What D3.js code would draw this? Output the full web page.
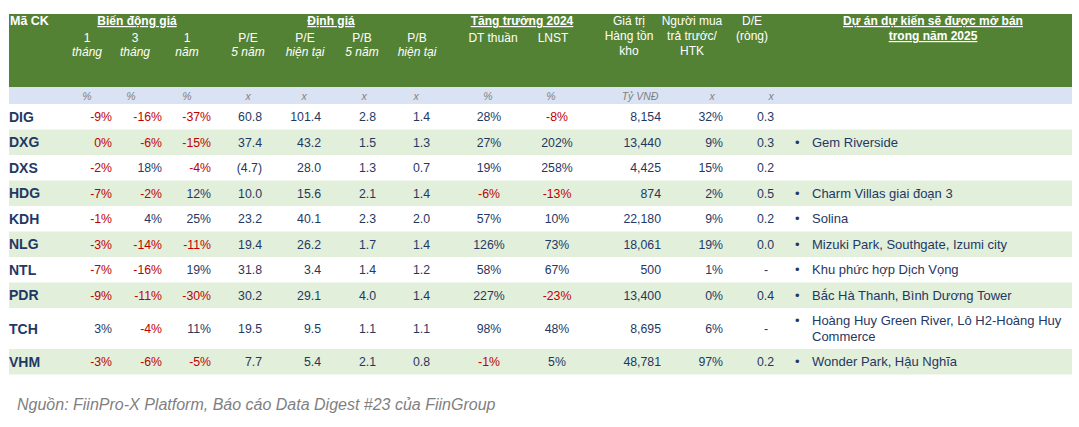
<!DOCTYPE html>
<html>
<head>
<meta charset="utf-8">
<script src="https://cdn.jsdelivr.net/npm/d3@7"></script>
<style>
  html, body { margin: 0; padding: 0; background: #ffffff; }
  svg { display: block; font-family: Arial, "Liberation Sans", sans-serif; }
</style>
</head>
<body>
<svg id="chart" width="1079" height="427"></svg>
<script>
// ---------------- DATA ----------------
const tickers   = ["DIG","DXG","DXS","HDG","KDH","NLG","NTL","PDR","TCH","VHM"];
const chg1m     = [-9, 0, -2, -7, -1, -3, -7, -9, 3, -3];
const chg3m     = [-16, -6, 18, -2, 4, -14, -16, -11, -4, -6];
const chg1y     = [-37, -15, -4, 12, 25, -11, 19, -30, 11, -5];
const pe5y      = [60.8, 37.4, -4.7, 10.0, 23.2, 19.4, 31.8, 30.2, 19.5, 7.7];
const peNow     = [101.4, 43.2, 28.0, 15.6, 40.1, 26.2, 3.4, 29.1, 9.5, 5.4];
const pb5y      = [2.8, 1.5, 1.3, 2.1, 2.3, 1.7, 1.4, 4.0, 1.1, 2.1];
const pbNow     = [1.4, 1.3, 0.7, 1.4, 2.0, 1.4, 1.2, 1.4, 1.1, 0.8];
const revGrowth = [28, 27, 19, -6, 57, 126, 58, 227, 98, -1];
const npatGrowth= [-8, 202, 258, -13, 10, 73, 67, -23, 48, 5];
const inventory = [8154, 13440, 4425, 874, 22180, 18061, 500, 13400, 8695, 48781];
const prepaid   = [32, 9, 15, 2, 9, 19, 1, 0, 6, 97];
const netDE     = [0.3, 0.3, 0.2, 0.5, 0.2, 0.0, null, 0.4, null, 0.2];
const projects  = [
  [],
  ["Gem Riverside"],
  [],
  ["Charm Villas giai đoạn 3"],
  ["Solina"],
  ["Mizuki Park, Southgate, Izumi city"],
  ["Khu phức hợp Dịch Vọng"],
  ["Bắc Hà Thanh, Bình Dương Tower"],
  ["Hoàng Huy Green River, Lô H2-Hoàng Huy", "Commerce"],
  ["Wonder Park, Hậu Nghĩa"]
];
const groupTitles = ["Biến động giá", "Định giá", "Tăng trưởng 2024"];
const colHeads = [["1","tháng"],["3","tháng"],["1","năm"],["P/E","5 năm"],["P/E","hiện tại"],
                  ["P/B","5 năm"],["P/B","hiện tại"],["DT thuần"],["LNST"],
                  ["Giá trị","Hàng tồn","kho"],["Người mua","trả trước/","HTK"],["D/E","(ròng)"]];
const units = ["%","%","%","x","x","x","x","%","%","Tỷ VNĐ","x","x"];
const projectTitle = ["Dự án dự kiến sẽ được mở bán", "trong năm 2025"];
const tickerTitle = "Mã CK";
const sourceNote = "Nguồn: FiinPro-X Platform, Báo cáo Data Digest #23 của FiinGroup";

// ---------------- STYLE / LAYOUT ----------------
const GREEN = "#548235", STRIPE = "#e2efda", UNITROW = "#dae3f3";
const NAVY = "#1f3864", RED = "#c00000", GREY = "#7f7f7f";
const left = 9, right = 1072;
const headTop = 14, headBottom = 87, unitBottom = 104;

const pct = d => d + "%";
const dec = d => d < 0 ? "(" + Math.abs(d).toFixed(1) + ")" : d.toFixed(1);
const thou = d3.format(",");
const deFmt = d => d == null ? "-" : d.toFixed(1);

const columns = [
  {vals: chg1m,      fmt: pct,  x: 112, anchor: "end",    hx: 87,  ux: 87,  red: true,  italic2: true},
  {vals: chg3m,      fmt: pct,  x: 162, anchor: "end",    hx: 135, ux: 131, red: true,  italic2: true},
  {vals: chg1y,      fmt: pct,  x: 211, anchor: "end",    hx: 187, ux: 187, red: true,  italic2: true},
  {vals: pe5y,       fmt: dec,  x: 262, anchor: "end",    hx: 248, ux: 248, red: false, italic2: true},
  {vals: peNow,      fmt: dec,  x: 321, anchor: "end",    hx: 305, ux: 304, red: false, italic2: true},
  {vals: pb5y,       fmt: dec,  x: 376, anchor: "end",    hx: 362, ux: 364, red: false, italic2: true},
  {vals: pbNow,      fmt: dec,  x: 430, anchor: "end",    hx: 417, ux: 416, red: false, italic2: true},
  {vals: revGrowth,  fmt: pct,  x: 489, anchor: "middle", hx: 493, ux: 488, red: true,  italic2: false},
  {vals: npatGrowth, fmt: pct,  x: 557, anchor: "middle", hx: 553, ux: 551, red: true,  italic2: false},
  {vals: inventory,  fmt: thou, x: 661, anchor: "end",    hx: 629, ux: 640, red: false, italic2: false, stack: true},
  {vals: prepaid,    fmt: pct,  x: 723, anchor: "end",    hx: 692, ux: 712, red: false, italic2: false, stack: true},
  {vals: netDE,      fmt: deFmt,x: 774, anchor: "end",    hx: 752, ux: 771, red: false, italic2: false, stack: true}
];
const groupCenters = [137, 331, 522];

// row geometry
const rowHeights = tickers.map(t => t === "TCH" ? 41 : 25.5);
const rowTops = [];
rowHeights.reduce((acc, h) => { rowTops.push(acc); return acc + h; }, unitBottom);
const yTop = d3.scaleOrdinal(tickers, rowTops);
const yH = d3.scaleOrdinal(tickers, rowHeights);
const yMid = t => yTop(t) + yH(t) / 2;

const svg = d3.select("#chart");

// ---------------- HEADER ----------------
svg.append("rect").attr("x", left).attr("y", headTop).attr("width", right - left)
   .attr("height", headBottom - headTop).attr("fill", GREEN);
svg.append("rect").attr("x", left).attr("y", headBottom).attr("width", right - left)
   .attr("height", unitBottom - headBottom).attr("fill", UNITROW);

const hdr = svg.append("g").attr("fill", "#ffffff").attr("font-size", 12);
hdr.append("text").attr("x", 10).attr("y", 25).attr("font-weight", "bold")
   .attr("font-size", 12.5).text(tickerTitle);
hdr.selectAll("text.grp").data(groupTitles).join("text").attr("class", "grp")
   .attr("x", (d, i) => groupCenters[i]).attr("y", 25).attr("text-anchor", "middle")
   .attr("font-weight", "bold").attr("text-decoration", "underline").text(d => d);
hdr.selectAll("text.proj").data(projectTitle).join("text").attr("class", "proj")
   .attr("x", 933).attr("y", (d, i) => 25 + i * 15).attr("text-anchor", "middle")
   .attr("font-weight", "bold").attr("text-decoration", "underline").text(d => d);

columns.forEach((c, ci) => {
  const lines = colHeads[ci];
  lines.forEach((ln, li) => {
    const y = c.stack ? 25 + li * 15 : 42 + li * 14;
    hdr.append("text").attr("x", c.hx).attr("y", y).attr("text-anchor", "middle")
       .attr("font-style", (li === 1 && c.italic2) ? "italic" : "normal").text(ln);
  });
});

// units row
svg.append("g").selectAll("text").data(units).join("text")
   .attr("x", (d, i) => columns[i].ux).attr("y", 99.5).attr("text-anchor", "middle")
   .attr("font-size", 10.5).attr("font-style", "italic").attr("fill", GREY).text(d => d);

// ---------------- BODY ----------------
const body = svg.append("g");
body.selectAll("rect.stripe").data(tickers.filter((t, i) => i % 2 === 1)).join("rect")
   .attr("class", "stripe").attr("x", left).attr("y", d => yTop(d))
   .attr("width", right - left).attr("height", d => yH(d)).attr("fill", STRIPE);

body.selectAll("text.tk").data(tickers).join("text").attr("class", "tk")
   .attr("x", 9).attr("y", d => yMid(d) + 5).attr("font-size", 14)
   .attr("font-weight", "bold").attr("fill", NAVY).text(d => d);

columns.forEach(c => {
  body.append("g").selectAll("text").data(tickers).join("text")
    .attr("x", (d, i) => (c.vals[i] == null ? c.x - 6 : c.x))
    .attr("y", d => yMid(d) + 4.4)
    .attr("text-anchor", c.anchor).attr("font-size", 12.3)
    .attr("fill", (d, i) => c.red && c.vals[i] <= 0 ? RED : NAVY)
    .text((d, i) => c.fmt(c.vals[i]));
});

// projects
tickers.forEach((t, i) => {
  const lines = projects[i];
  if (!lines.length) return;
  const n = lines.length;
  const base = yMid(t) + 4.6 - (n - 1) * 8;
  body.append("text").attr("x", 795).attr("y", base).attr("font-size", 13)
      .attr("fill", NAVY).text("•");
  lines.forEach((ln, li) => {
    body.append("text").attr("x", 812).attr("y", base + li * 16).attr("font-size", 13)
        .attr("fill", NAVY).text(ln);
  });
});

// source
svg.append("text").attr("x", 17).attr("y", 410).attr("font-size", 16)
   .attr("font-style", "italic").attr("fill", GREY).text(sourceNote);
</script>
</body>
</html>
